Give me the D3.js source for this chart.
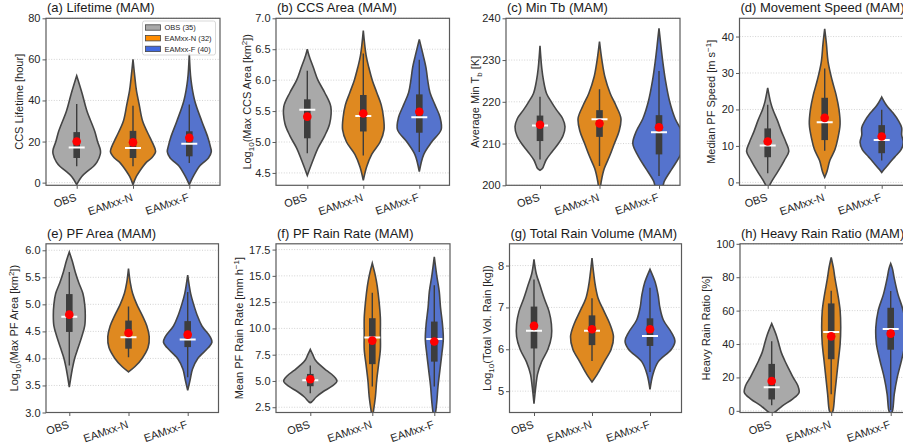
<!DOCTYPE html>
<html>
<head>
<meta charset="utf-8">
<script src="https://cdn.jsdelivr.net/npm/d3@7"></script>
<style>
body { margin: 0; background: #fff; }
text { font-family: "Liberation Sans", Arial, Helvetica, sans-serif; }
</style>
</head>
<body>
<script>
// ---- data ----
var categories = ['OBS', 'EAMxx-N', 'EAMxx-F'];
var legendLabels = ['OBS (35)', 'EAMxx-N (32)', 'EAMxx-F (40)'];

var titles = ['(a) Lifetime (MAM)', '(b) CCS Area (MAM)', '(c) Min Tb (MAM)', '(d) Movement Speed (MAM)',
	'(e) PF Area (MAM)', '(f) PF Rain Rate (MAM)', '(g) Total Rain Volume (MAM)', '(h) Heavy Rain Ratio (MAM)'];

// [text, '' | 'sub' | 'sup']
var yLabels = [
	[['CCS Lifetime [hour]', '']],
	[['Log', ''], ['10', 'sub'], ['(Max CCS Area [km', ''], ['2', 'sup'], ['])', '']],
	[['Average Min T', ''], ['b', 'sub'], [' [K]', '']],
	[['Median PF Speed [m s', ''], ['\u22121', 'sup'], [']', '']],
	[['Log', ''], ['10', 'sub'], ['(Max PF Area [km', ''], ['2', 'sup'], ['])', '']],
	[['Mean PF Rain Rate [mm h', ''], ['\u22121', 'sup'], [']', '']],
	[['Log', ''], ['10', 'sub'], ['(Total Vol. Rain [kg])', '']],
	[['Heavy Rain Ratio [%]', '']]
];

var yDomains = [[-1.3, 80], [4.3, 7.0], [200, 240], [-0.8, 45], [3.0, 6.12], [2.0, 18.05], [4.49, 8.52], [-1, 100]];
var yTicks = [
	[0, 20, 40, 60, 80],
	[4.5, 5.0, 5.5, 6.0, 6.5, 7.0],
	[200, 210, 220, 230, 240],
	[0, 10, 20, 30, 40],
	[3.0, 3.5, 4.0, 4.5, 5.0, 5.5, 6.0],
	[2.5, 5.0, 7.5, 10.0, 12.5, 15.0, 17.5],
	[5, 6, 7, 8],
	[0, 20, 40, 60, 80, 100]
];
var tickFormats = ['d', '.1f', 'd', 'd', '.1f', '.1f', 'd', 'd'];

// violin outlines: [value, half width in category spacing], one list per category
var lifetimeViolins = [
	[[-1, 0], [3, 0.09], [6, 0.21], [8, 0.30], [10, 0.36], [14, 0.42], [16, 0.42], [20, 0.37], [25, 0.32], [35, 0.18], [43.5, 0.095], [52, 0]],
	[[-1, 0], [3, 0.06], [8, 0.18], [10, 0.24], [12, 0.33], [15, 0.40], [18, 0.37], [22, 0.30], [30, 0.17], [38, 0.11], [45, 0.06], [52, 0.03], [60, 0]],
	[[-1, 0], [3, 0.07], [8, 0.18], [10, 0.26], [12, 0.34], [15, 0.39], [18, 0.37], [22, 0.33], [30, 0.22], [40, 0.095], [50, 0.03], [63, 0]]
];
var ccsAreaViolins = [
	[[4.46, 0], [4.7, 0.1], [4.9, 0.19], [5.1, 0.31], [5.3, 0.40], [5.57, 0.42], [5.8, 0.31], [6.0, 0.19], [6.2, 0.11], [6.4, 0.03], [6.5, 0]],
	[[4.38, 0], [4.6, 0.06], [4.8, 0.15], [5.0, 0.30], [5.2, 0.37], [5.4, 0.36], [5.6, 0.32], [5.8, 0.24], [6.0, 0.16], [6.2, 0.1], [6.4, 0.05], [6.8, 0]],
	[[4.52, 0], [4.8, 0.08], [5.0, 0.22], [5.2, 0.39], [5.4, 0.37], [5.6, 0.28], [5.8, 0.19], [6.0, 0.15], [6.2, 0.12], [6.4, 0.07], [6.66, 0]]
];
var minTbViolins = [
	[[203.6, 0], [204, 0.04], [206, 0.1], [208, 0.2], [210, 0.31], [212, 0.39], [214, 0.42], [216, 0.38], [218, 0.28], [220, 0.19], [222, 0.11], [225, 0.06], [228, 0.03], [233.4, 0]],
	[[198, 0], [200, 0.02], [201, 0.03], [204, 0.08], [207, 0.17], [210, 0.25], [213, 0.33], [216, 0.36], [219, 0.28], [222, 0.18], [226, 0.09], [230, 0.04], [234.4, 0]],
	[[197, 0], [200, 0.07], [201, 0.09], [204, 0.22], [207, 0.35], [210, 0.44], [213, 0.38], [216, 0.27], [220, 0.18], [225, 0.11], [230, 0.06], [235, 0.02], [237.6, 0]]
];
var speedViolins = [
	[[-2, 0], [0, 0.06], [3, 0.18], [6, 0.29], [8.5, 0.37], [11, 0.32], [14, 0.24], [17, 0.17], [20, 0.09], [22, 0.05], [25.9, 0]],
	[[1.4, 0], [3, 0.04], [6, 0.09], [9, 0.18], [12, 0.23], [16, 0.27], [20, 0.25], [24, 0.2], [28, 0.13], [33, 0.06], [38, 0.03], [42.1, 0]],
	[[2.7, 0], [3.5, 0.04], [5, 0.12], [7, 0.23], [9, 0.34], [11, 0.38], [13, 0.35], [15, 0.35], [17, 0.29], [19, 0.2], [21, 0.09], [23.4, 0]]
];
var pfAreaViolins = [
	[[3.47, 0], [3.8, 0.05], [4.0, 0.09], [4.2, 0.15], [4.4, 0.21], [4.6, 0.26], [4.8, 0.27], [5.0, 0.26], [5.2, 0.23], [5.4, 0.16], [5.6, 0.1], [5.8, 0.05], [5.97, 0]],
	[[3.75, 0], [3.85, 0.11], [4.0, 0.23], [4.2, 0.33], [4.4, 0.35], [4.6, 0.31], [4.8, 0.23], [5.0, 0.14], [5.2, 0.07], [5.4, 0.03], [5.66, 0]],
	[[3.41, 0], [3.6, 0.04], [3.8, 0.08], [4.0, 0.17], [4.2, 0.35], [4.3, 0.41], [4.4, 0.38], [4.6, 0.24], [4.8, 0.16], [5.0, 0.1], [5.2, 0.05], [5.54, 0]]
];
var rainRateViolins = [
	[[2.94, 0], [3.0, 0.02], [3.5, 0.1], [4.0, 0.21], [4.5, 0.35], [5.0, 0.43], [5.5, 0.37], [6.0, 0.26], [6.5, 0.16], [7.0, 0.08], [7.5, 0.04], [8.0, 0]],
	[[1.5, 0], [2.2, 0.02], [3.5, 0.05], [5, 0.07], [6.5, 0.1], [8, 0.13], [9.5, 0.13], [11, 0.13], [12.5, 0.11], [14, 0.08], [15, 0.05], [16.2, 0]],
	[[1.5, 0], [2, 0.02], [3, 0.04], [4.5, 0.06], [6, 0.09], [7.5, 0.12], [9, 0.145], [10.5, 0.13], [12, 0.1], [13.5, 0.08], [15, 0.04], [16.8, 0]]
];
var rainVolViolins = [
	[[4.7, 0], [5.1, 0.03], [5.4, 0.06], [5.7, 0.13], [6.0, 0.24], [6.3, 0.3], [6.6, 0.3], [6.9, 0.26], [7.2, 0.18], [7.5, 0.11], [7.8, 0.04], [8.15, 0]],
	[[5.22, 0], [5.4, 0.09], [5.7, 0.21], [6.0, 0.33], [6.3, 0.37], [6.6, 0.31], [6.9, 0.21], [7.2, 0.11], [7.5, 0.06], [7.8, 0.03], [8.18, 0]],
	[[5.04, 0], [5.4, 0.05], [5.7, 0.14], [6.0, 0.37], [6.2, 0.43], [6.4, 0.37], [6.7, 0.23], [7.0, 0.17], [7.3, 0.14], [7.6, 0.09], [7.91, 0]]
];
var heavyViolins = [
	[[-2, 0], [0, 0.08], [3, 0.18], [7, 0.35], [11, 0.46], [15, 0.44], [20, 0.36], [25, 0.29], [30, 0.22], [35, 0.16], [40, 0.12], [45, 0.08], [52.2, 0]],
	[[-2, 0], [0, 0.03], [10, 0.06], [20, 0.09], [30, 0.12], [40, 0.15], [50, 0.16], [60, 0.15], [70, 0.11], [80, 0.06], [85, 0.04], [91.8, 0]],
	[[-2, 0], [0, 0.03], [10, 0.06], [20, 0.11], [30, 0.18], [40, 0.24], [50, 0.25], [60, 0.21], [70, 0.12], [80, 0.056], [85, 0.03], [88.2, 0]]
];

// [whisker low, q1, median, q3, whisker high, mean]
var lifetimeStats = [[8, 12, 17.1, 24.6, 38.3, 20], [8, 12, 16.8, 25.2, 37.4, 19.6], [9.5, 12.8, 18.9, 25, 38, 21.8]];
var ccsAreaStats = [[4.82, 5.06, 5.52, 5.69, 6.15, 5.41], [4.78, 5.17, 5.42, 5.76, 6.43, 5.46], [4.84, 5.15, 5.40, 5.77, 6.33, 5.49]];
var minTbStats = [[206.2, 210.6, 214.3, 216.7, 221.2, 214.5], [204.6, 211.6, 215.8, 218, 223, 214.8], [202.2, 207.4, 212.7, 216.8, 227.4, 213.9]];
var speedStats = [[2.5, 6.9, 10.1, 14.8, 21.3, 11.2], [8.7, 11.6, 16.5, 23.2, 31.2, 17.7], [6, 8, 11.6, 15.7, 19.9, 12.6]];
var pfAreaStats = [[3.87, 4.49, 4.77, 5.19, 5.6, 4.81], [4.02, 4.18, 4.39, 4.70, 4.96, 4.47], [3.65, 4.21, 4.35, 4.69, 5.23, 4.44]];
var rainRateStats = [[3.84, 4.5, 5.07, 5.67, 6.46, 5.17], [4.47, 6.6, 9.13, 10.97, 13.4, 8.84], [4.47, 6.84, 9.0, 10.65, 14.1, 8.75]];
var rainVolStats = [[4.95, 6.02, 6.44, 7.02, 7.67, 6.56], [5.72, 6.1, 6.44, 6.81, 7.22, 6.48], [5.46, 6.08, 6.32, 6.74, 7.47, 6.48]];
var heavyStats = [[3.4, 6.8, 14.1, 28.1, 41.6, 17.9], [10, 30.9, 47.2, 64.3, 71.9, 44.6], [0.5, 36.6, 49, 61.7, 71.7, 46.2]];

var violins = [lifetimeViolins, ccsAreaViolins, minTbViolins, speedViolins, pfAreaViolins, rainRateViolins, rainVolViolins, heavyViolins];
var stats = [lifetimeStats, ccsAreaStats, minTbStats, speedStats, pfAreaStats, rainRateStats, rainVolStats, heavyStats];

// ---- layout / style ----
var fillColors = ['#a9a9a9', '#df8920', '#5573cd'];
var legendColors = ['#a9a9a9', '#ff8c00', '#4169e1'];
var edge = '#454545';

// frame box and first/last violin centres for each panel (pixels)
var layout = [
	{left: 46, right: 220, top: 18.3, bottom: 185.3, c0: 76.7, c2: 189.3, lab: 19.5},
	{left: 276, right: 449.5, top: 18.3, bottom: 185.3, c0: 307.3, c2: 419.3, lab: 246.7},
	{left: 506, right: 680, top: 18.3, bottom: 185.3, c0: 540, c2: 659, lab: 474.7},
	{left: 739.5, right: 913, top: 18.3, bottom: 185.3, c0: 767.7, c2: 881.7, lab: 711.3},
	{left: 46, right: 218.5, top: 243.8, bottom: 412.5, c0: 69.3, c2: 187.7, lab: 13.8},
	{left: 276, right: 450, top: 243.8, bottom: 412.5, c0: 310.3, c2: 434.3, lab: 238.7},
	{left: 509.5, right: 681.5, top: 243.8, bottom: 412.5, c0: 534, c2: 650, lab: 486.7},
	{left: 740, right: 914, top: 243.8, bottom: 412.5, c0: 771.7, c2: 890.7, lab: 706.2}
];

var svg = d3.select('body')
		.append('svg')
		.attr('width', 903)
		.attr('height', 446);

function drawPanel(i) {
	var L = layout[i];
	var g = svg.append('g');

	var y = d3.scaleLinear()
		.domain(yDomains[i])
		.range([L.bottom, L.top]);
	var x = d3.scaleLinear()
		.domain([0, 2])
		.range([L.c0, L.c2]);
	var unit = (L.c2 - L.c0) / 2;

	g.append('clipPath')
		.attr('id', 'clip' + i)
		.append('rect')
		.attr('x', L.left).attr('y', L.top)
		.attr('width', L.right - L.left).attr('height', L.bottom - L.top);

	// grid
	g.selectAll('.grid')
		.data(yTicks[i])
		.enter().append('line')
		.attr('x1', L.left).attr('x2', L.right)
		.attr('y1', function(d) { return y(d); })
		.attr('y2', function(d) { return y(d); })
		.attr('stroke', '#c8c8c8')
		.attr('stroke-width', 0.8)
		.attr('stroke-dasharray', '1,1.6');

	var plot = g.append('g').attr('clip-path', 'url(#clip' + i + ')');

	violins[i].forEach(function(prof, k) {
		var area = d3.area()
			.y(function(d) { return y(d[0]); })
			.x0(function(d) { return x(k) - d[1] * unit; })
			.x1(function(d) { return x(k) + d[1] * unit; })
			.curve(d3.curveCatmullRom.alpha(0.5));
		plot.append('path')
			.attr('d', area(prof))
			.attr('fill', fillColors[k])
			.attr('stroke', edge)
			.attr('stroke-width', 1.6);
	});

	stats[i].forEach(function(s, k) {
		var cx = x(k);
		plot.append('line')
			.attr('x1', cx).attr('x2', cx)
			.attr('y1', y(s[0])).attr('y2', y(s[4]))
			.attr('stroke', '#3d3d3d')
			.attr('stroke-width', 1.4);
		plot.append('rect')
			.attr('x', cx - 3.3).attr('width', 6.6)
			.attr('y', y(s[3])).attr('height', y(s[1]) - y(s[3]))
			.attr('fill', '#3d3d3d');
		plot.append('line')
			.attr('x1', cx - 8).attr('x2', cx + 8)
			.attr('y1', y(s[2])).attr('y2', y(s[2]))
			.attr('stroke', '#fff')
			.attr('stroke-width', 2);
		plot.append('circle')
			.attr('cx', cx).attr('cy', y(s[5]))
			.attr('r', 4.3)
			.attr('fill', '#ff0000');
	});

	// frame
	g.append('rect')
		.attr('x', L.left).attr('y', L.top)
		.attr('width', L.right - L.left).attr('height', L.bottom - L.top)
		.attr('fill', 'none')
		.attr('stroke', '#5a5a5a')
		.attr('stroke-width', 1.2);

	var yAxis = g.append('g')
		.attr('transform', 'translate(' + L.left + ',0)')
		.call(d3.axisLeft(y).tickValues(yTicks[i]).tickFormat(d3.format(tickFormats[i])).tickSize(3.5).tickPadding(2));
	var xAxis = g.append('g')
		.attr('transform', 'translate(0,' + L.bottom + ')')
		.call(d3.axisBottom(x).tickValues([0, 1, 2]).tickFormat(function(d) { return categories[d]; }).tickSize(3.5));

	[yAxis, xAxis].forEach(function(a) {
		a.select('.domain').remove();
		a.selectAll('line').attr('stroke', '#5a5a5a');
		a.selectAll('text')
			.attr('fill', '#262626')
			.style('font-size', '11px')
			.style('font-family', '"Liberation Sans", Arial, sans-serif');
	});

	xAxis.selectAll('text')
		.attr('x', 0).attr('y', 0).attr('dy', 0)
		.attr('text-anchor', 'end')
		.attr('transform', 'translate(0,15) rotate(-19)');

	g.append('text')
		.attr('x', L.left + 1)
		.attr('y', L.top - 6)
		.attr('fill', '#1a1a1a')
		.style('font-size', '13px')
		.text(titles[i]);

	var yl = g.append('text')
		.attr('transform', 'translate(' + L.lab + ',' + ((L.top + L.bottom) / 2) + ') rotate(-90)')
		.attr('text-anchor', 'middle')
		.attr('dy', '0.35em')
		.attr('fill', '#262626')
		.style('font-size', '11px');
	var shift = 0;
	yLabels[i].forEach(function(seg) {
		var t = yl.append('tspan').text(seg[0]);
		var target = seg[1] === 'sub' ? 3 : seg[1] === 'sup' ? -4 : 0;
		if (target !== shift) t.attr('dy', target - shift);
		shift = target;
		if (seg[1]) t.style('font-size', '8px');
	});
}

for (var i = 0; i < 8; i++) drawPanel(i);

// legend in panel (a)
var leg = svg.append('g').attr('transform', 'translate(142.5,21)');
leg.append('rect')
	.attr('width', 73).attr('height', 34)
	.attr('rx', 2)
	.attr('fill', '#fff')
	.attr('fill-opacity', 0.85)
	.attr('stroke', '#cfcfcf')
	.attr('stroke-width', 0.8);
legendLabels.forEach(function(t, k) {
	var row = leg.append('g').attr('transform', 'translate(0,' + (6.5 + k * 10.7) + ')');
	row.append('rect')
		.attr('x', 3).attr('y', -2.7)
		.attr('width', 15).attr('height', 5.4)
		.attr('fill', legendColors[k])
		.attr('stroke', edge)
		.attr('stroke-width', 0.8);
	row.append('text')
		.attr('x', 22).attr('dy', '0.35em')
		.attr('fill', '#262626')
		.style('font-size', '7.5px')
		.text(t);
});
</script>
</body>
</html>
